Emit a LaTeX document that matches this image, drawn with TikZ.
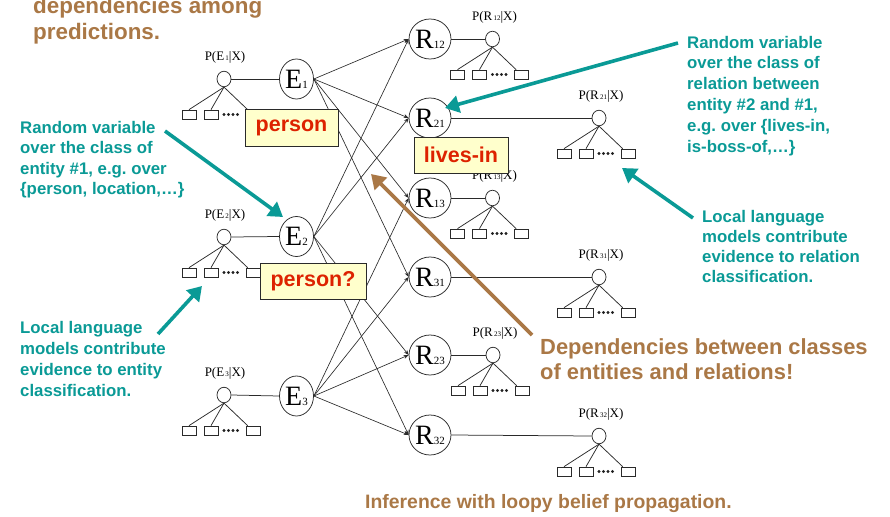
\documentclass[tikz,border=0pt]{standalone}
\usepackage{fontspec}
\setmainfont{Liberation Serif}
\newfontfamily\arialb{Liberation Sans}
\usetikzlibrary{shapes.geometric,arrows.meta,calc}
\frenchspacing
\definecolor{teal1}{HTML}{0A9A96}
\definecolor{brown1}{HTML}{AA7846}
\definecolor{red1}{HTML}{DD2200}
\definecolor{boxfill}{HTML}{FFFFCC}
\definecolor{ln}{HTML}{2A2A2A}
\newcommand\bvar[2]{{\fontsize{28}{28}\selectfont #1}{\fontsize{11}{11}\selectfont #2}}
\newcommand\pl[2]{P(#1{\fontsize{7}{7}\selectfont\,#2}|X)}
\newcommand\ptree[5]{%
  \node[sc] (#1) at (#2,#3) {};
  \node[plab] (#1l) at (#2+1,#3-22) {#4};
  \node[bx] (#1a) at (#2-35,#3+35.5) {};
  \node[bx] (#1b) at (#2-13,#3+35.5) {};
  \node[bx] (#1c) at (#2+29,#3+35.5) {};
  \draw[ln] (#1.south) -- (#1a.north);
  \draw[ln] (#1.south) -- (#1b.north);
  \draw[ln] (#1.south) -- ([xshift=2pt]#1c.north west);
  \foreach \d in {0,4.5,9,13.5}{\fill[ln] (#2+\d,#3+35.5) circle (1.15);}
  \draw[ln] (#1.east) -- (#5.west);
}
\newcommand\ptreeR[5]{%
  \node[sc] (#1) at (#2,#3) {};
  \node[plab] (#1l) at (#2+2,#3-22) {#4};
  \node[bx] (#1a) at (#2-35,#3+35.5) {};
  \node[bx] (#1b) at (#2-13,#3+35.5) {};
  \node[bx] (#1c) at (#2+29,#3+35.5) {};
  \draw[ln] (#1.south) -- (#1a.north);
  \draw[ln] (#1.south) -- (#1b.north);
  \draw[ln] (#1.south) -- ([xshift=2pt]#1c.north west);
  \foreach \d in {0,4.5,9,13.5}{\fill[ln] (#2+\d,#3+35.5) circle (1.15);}
  \draw[ln] (#5.east) -- (#1.west);
}
\begin{document}
\begin{tikzpicture}[x=1pt,y=-1pt,
  ln/.style={draw=ln,line width=0.75pt},
  big/.style={ellipse,draw=ln,line width=0.75pt,inner sep=0pt,minimum width=34pt,minimum height=40pt,fill=white},
  sc/.style={ellipse,draw=ln,line width=0.75pt,inner sep=0pt,minimum width=14pt,minimum height=15.5pt},
  bx/.style={rectangle,draw=ln,line width=0.75pt,inner sep=0pt,minimum width=14pt,minimum height=9pt},
  plab/.style={inner sep=0pt,font=\fontsize{13}{13}\selectfont},
  edge/.style={draw=ln,line width=0.65pt,-{Stealth[length=5pt,width=4pt]}},
  tag/.style={draw=ln,line width=0.75pt,fill=boxfill,inner sep=0pt,text=red1,font=\arialb\bfseries\fontsize{21.5}{21.5}\selectfont},
  tnote/.style={inner sep=0pt,anchor=base west,align=left,text=teal1,font=\arialb\bfseries\fontsize{16.8}{20.6}\selectfont},
  bnote/.style={inner sep=0pt,anchor=base west,align=left,text=brown1,font=\arialb\bfseries},
  tarrow/.style={draw=teal1,line width=3.6pt,-{Triangle[length=14pt,width=17pt]}},
  barrow/.style={draw=brown1,line width=3.6pt,-{Triangle[length=14pt,width=17pt]}}
]
\useasboundingbox (0,0) rectangle (890,516);
% main variable nodes
\node[big] (E1) at (296.5,79) {\bvar{E}{1}};
\node[big] (E2) at (296.5,236.5) {\bvar{E}{2}};
\node[big] (E3) at (296.5,396) {\bvar{E}{3}};
\node[big] (R12) at (430,39) {\bvar{R}{12}};
\node[big] (R21) at (430,118) {\bvar{R}{21}};
\node[big] (R13) at (430,198) {\bvar{R}{13}};
\node[big] (R31) at (430,277) {\bvar{R}{31}};
\node[big] (R23) at (430,355) {\bvar{R}{23}};
\node[big] (R32) at (430,435) {\bvar{R}{32}};
% local trees
\ptree{pE1}{224}{79}{\pl{E}{1}}{E1}
\ptree{pE2}{224}{237}{\pl{E}{2}}{E2}
\ptree{pE3}{224}{395}{\pl{E}{3}}{E3}
\ptreeR{pR12}{492.5}{39}{\pl{R}{12}}{R12}
\ptreeR{pR21}{599}{118}{\pl{R}{21}}{R21}
\ptreeR{pR13}{492.5}{198}{\pl{R}{13}}{R13}
\ptreeR{pR31}{599}{277}{\pl{R}{31}}{R31}
\ptreeR{pR23}{493}{355}{\pl{R}{23}}{R23}
\ptreeR{pR32}{599}{436}{\pl{R}{32}}{R32}
% dependency edges
\foreach \r in {R12,R21,R13,R31}{\draw[edge] (E1.east) -- (\r.west);}
\foreach \r in {R12,R21,R23,R32}{\draw[edge] (E2.east) -- (\r.west);}
\foreach \r in {R13,R31,R23,R32}{\draw[edge] (E3.east) -- (\r.west);}
% tags
\node[tag,minimum width=93pt,minimum height=37pt] (t1) at (291.5,127.5) {person};
\node[tag,minimum width=94pt,minimum height=36pt] (t2) at (461,155) {lives-in};
\node[tag,minimum width=106pt,minimum height=36pt] (t3) at (313,281) {person?};
% annotations (base = last line's baseline)
\node[bnote,font=\arialb\bfseries\fontsize{22.4}{26.5}\selectfont] (n0) at (33,40) {dependencies among\\predictions.};
\node[tnote] (n1) at (20,194.8) {Random variable\\over the class of\\entity \#1, e.g. over\\\{person, location,\dots\}};
\node[tnote,font=\arialb\bfseries\fontsize{16.8}{20.8}\selectfont] (n2) at (687,152) {Random variable\\over the class of\\relation between\\entity \#2 and \#1,\\e.g. over \{lives-in,\\is-boss-of,\dots\}};
\node[tnote,font=\arialb\bfseries\fontsize{16.8}{20}\selectfont] (n3) at (702,282.5) {Local language\\models contribute\\evidence to relation\\classification.};
\node[tnote,font=\arialb\bfseries\fontsize{16.8}{20.7}\selectfont] (n4) at (20,396) {Local language\\models contribute\\evidence to entity\\classification.};
\node[bnote,font=\arialb\bfseries\fontsize{21.9}{25.5}\selectfont] (n5) at (540,379.5) {Dependencies between classes\\of entities and relations!};
\node[bnote,font=\arialb\bfseries\fontsize{19.4}{20}\selectfont] (n6) at (365,508) {Inference with loopy belief propagation.};
% annotation arrows
\coordinate (a1s) at (165,131);
\coordinate (a1e) at (283,217);
\draw[tarrow] (a1s) -- (a1e);
\coordinate (a2s) at (678,43);
\coordinate (a2e) at (445,108);
\draw[tarrow] (a2s) -- (a2e);
\coordinate (a3s) at (693,218);
\coordinate (a3e) at (622,168);
\draw[tarrow] (a3s) -- (a3e);
\coordinate (a4s) at (158,334);
\coordinate (a4e) at (202,286);
\draw[tarrow] (a4s) -- (a4e);
\coordinate (a5s) at (532,335);
\coordinate (a5e) at (371,174);
\draw[barrow] (a5s) -- (a5e);
\end{tikzpicture}
\end{document}
